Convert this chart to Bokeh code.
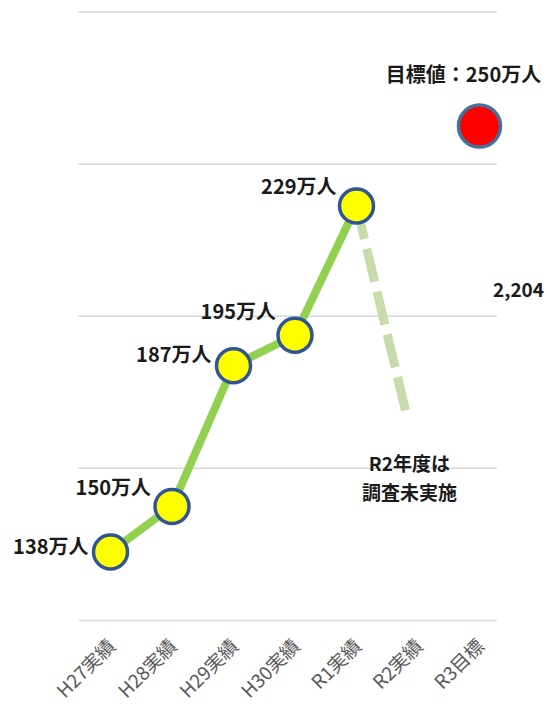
from bokeh.plotting import figure
from bokeh.models import Range1d, FixedTicker, ColumnDataSource
from bokeh.core.properties import value
from bokeh.embed import file_html
from bokeh.resources import INLINE

# ---- data ----
categories = ["H27実績", "H28実績", "H29実績", "H30実績", "R1実績", "R2実績", "R3目標"]
actual_idx = [0, 1, 2, 3, 4]
actual_values = [138, 150, 187, 195, 229]
actual_labels = ["138万人", "150万人", "187万人", "195万人", "229万人"]
target_idx = [6]
target_values = [250]
target_labels = ["目標値：250万人"]
drop_x = [4, 4.8]
drop_y = [229, 175]
note_text = ["R2年度は\n調査未実施"]
note_x = [4.86]
note_y = [157.7]
stray_text = ["2,204"]
stray_x = [6.22]
stray_y = [207]
grid_values = [120, 160, 200, 240, 280]

# label offsets (screen px) - styling
label_dx = [-22, -21, -22, -19, -20]
label_dy = [-7, -20, -12, -25, -20]

FONT = "Noto Sans CJK JP"

p = figure(width=547, height=715,
           x_range=Range1d(-1.789, 7.106), y_range=Range1d(117.63, 283.03),
           output_backend="svg", toolbar_location=None, y_axis_location=None,
           min_border_left=0, min_border_right=0, min_border_top=0, min_border_bottom=0)
p.grid.visible = False
p.outline_line_color = None
p.background_fill_color = "white"

ax = p.xaxis[0]
ax.ticker = FixedTicker(ticks=list(range(len(categories))))
ax.major_label_overrides = {i: c for i, c in enumerate(categories)}
ax.major_label_orientation = 0.785
ax.axis_line_color = None
ax.major_tick_line_color = None
ax.minor_tick_line_color = None
ax.major_tick_out = 0
ax.major_tick_in = 0
ax.major_label_standoff = 12
ax.major_label_text_font = FONT
ax.major_label_text_font_size = "19px"
ax.major_label_text_color = "#595959"

# gridlines
n = len(grid_values)
p.segment(x0=[-0.52] * n, x1=[6.28] * n, y0=grid_values, y1=grid_values,
          line_color="#d9d9d9", line_width=1.5)

# dashed drop line
p.line(drop_x, drop_y, line_color="#c6ddab", line_width=9, line_dash="34 10")

# actual line + markers
src = ColumnDataSource(dict(x=actual_idx, y=actual_values, t=actual_labels,
                            dx=label_dx, dy=label_dy))
p.line("x", "y", source=src, line_color="#92d050", line_width=8)
p.scatter("x", "y", source=src, size=34, fill_color="#ffff00",
          line_color="#2f5597", line_width=3.5)
p.text("x", "y", text="t", source=src, x_offset="dx", y_offset="dy",
       text_align="right", text_baseline="middle",
       text_font=value(FONT), text_font_size="20px", text_font_style="bold",
       text_color="#1a1a1a")

# target
p.scatter(x=target_idx, y=target_values, size=42,
          fill_color="#ff0000", line_color="#41719c", line_width=3.5)
p.text(x=target_idx, y=target_values, text=target_labels, x_offset=-16, y_offset=-53,
       text_align="center", text_baseline="middle",
       text_font=value(FONT), text_font_size="20px", text_font_style="bold",
       text_color="#1a1a1a")

# note
p.text(x=note_x, y=note_y, text=note_text, text_align="center", text_baseline="middle",
       text_line_height=1.05,
       text_font=value(FONT), text_font_size="19px", text_font_style="bold",
       text_color="#1a1a1a")

# stray label at right edge
p.text(x=stray_x, y=stray_y, text=stray_text, text_align="left", text_baseline="middle",
       text_font=value(FONT), text_font_size="19px", text_font_style="bold",
       text_color="#1a1a1a")

open("out.html", "w").write(file_html(p, INLINE))
